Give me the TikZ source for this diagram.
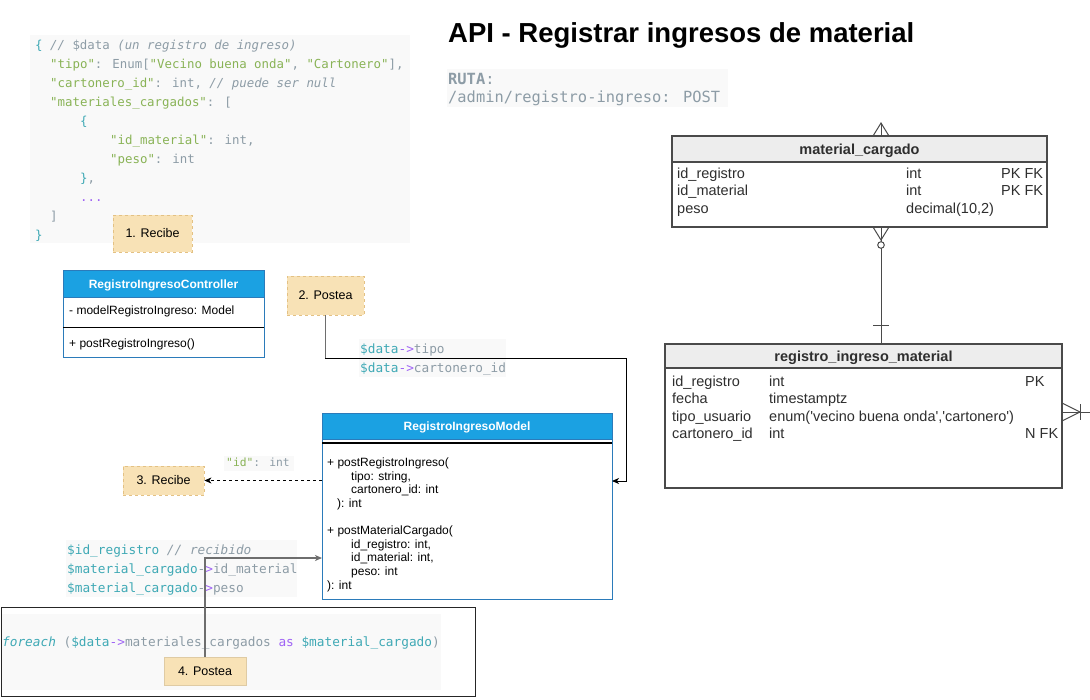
\documentclass[tikz,border=0pt]{standalone}
\usepackage{fontspec}
\setmainfont{Liberation Sans}
\newfontfamily\arialfnt{Liberation Sans}
\newfontfamily\codefnt{DejaVu Sans Mono}
\usetikzlibrary{arrows.meta}
\definecolor{cteal}{HTML}{3FA9B5}
\definecolor{cgreen}{HTML}{89B356}
\definecolor{cgray}{HTML}{8D9CA6}
\definecolor{cpurple}{HTML}{A064F5}
\definecolor{codebg}{HTML}{F9F9F9}
\definecolor{umlblue}{HTML}{1BA1E2}
\definecolor{umlline}{HTML}{2B7BBA}
\definecolor{stepfill}{HTML}{F8E2B6}
\definecolor{stepline}{HTML}{E3C184}
\definecolor{erheadfill}{HTML}{EDEDED}
\definecolor{erstroke}{HTML}{4A4A4A}
\definecolor{ertext}{HTML}{2E2E2E}
\definecolor{linkgray}{HTML}{6E6E6E}
\begin{document}
\begin{tikzpicture}[x=1pt,y=-1pt,
  codetxt/.style={anchor=base west,inner sep=0pt,text=cgray,font=\codefnt\fontsize{12.4}{15}\selectfont},
  codelbl/.style={anchor=base west,inner sep=0pt,text=cgray,font=\codefnt\fontsize{12.75}{15}\selectfont},
  codebgbox/.style={fill=codebg,draw=none},
  umltxt/.style={anchor=base west,inner sep=0pt,text=black,font=\arialfnt\fontsize{12}{14}\selectfont},
  umltitle/.style={anchor=base,inner sep=0pt,text=white,font=\arialfnt\bfseries\fontsize{12}{14}\selectfont},
  umlframe/.style={draw=umlline,line width=0.9pt,fill=white,inner sep=0pt},
  stepbox/.style={fill=stepfill,draw=stepline,line width=0.8pt,dash pattern=on 3pt off 3pt,inner sep=0pt,font=\arialfnt\fontsize{12.5}{14}\selectfont},
  ertxt/.style={anchor=base west,inner sep=0pt,text=ertext,font=\arialfnt\fontsize{14.5}{17}\selectfont},
  ertitle/.style={anchor=base,inner sep=0pt,text=ertext,font=\arialfnt\bfseries\fontsize{14.5}{17}\selectfont},
  erframe/.style={draw=erstroke,line width=1.1pt,inner sep=0pt},
  umlarrow/.style={-{Stealth[length=7pt,width=6pt,inset=2pt]}}
]
\useasboundingbox (0,0) rectangle (1090,699);
\fill[white] (0,0) rectangle (1090,699);

% ---------- backgrounds of code snippets ----------
\fill[codebgbox] (30,35) rectangle (410,243);
\fill[codebgbox] (359,339) rectangle (506,377);
\fill[codebgbox] (224,456) rectangle (294,471);
\fill[codebgbox] (66,540) rectangle (297,597);
\fill[codebgbox] (447,69) rectangle (728,107);
\fill[codebgbox] (1,614) rectangle (441,690);

% ---------- title and route ----------
\node[anchor=base west,inner sep=0pt,font=\arialfnt\bfseries\fontsize{27.5}{32}\selectfont] (title) at (448,42) {API - Registrar ingresos de material};
\node[anchor=base west,inner sep=0pt,text=cgray,font=\codefnt\fontsize{15.4}{18}\selectfont] (ruta1) at (448,84.5) {{\bfseries RUTA}:};
\node[anchor=base west,inner sep=0pt,text=cgray,font=\codefnt\fontsize{15.4}{18}\selectfont] (ruta2) at (448,102.5) {/admin/registro-ingreso: POST};

% ---------- JSON code ----------
\node[codetxt] (c1) at (35,49.5) {\textcolor{cteal}{\{} {\itshape //} \$data {\itshape (un registro de ingreso)}};
\node[codetxt] (c2) at (50,68.5) {\textcolor{cgreen}{"tipo"}: Enum[\textcolor{cgreen}{"Vecino buena onda"}, \textcolor{cgreen}{"Cartonero"}],};
\node[codetxt] (c3) at (50,87.5) {\textcolor{cgreen}{"cartonero\_id"}: int, {\itshape // puede ser null}};
\node[codetxt] (c4) at (50,106.5) {\textcolor{cgreen}{"materiales\_cargados"}: [};
\node[codetxt] (c5) at (80,125.5) {\textcolor{cteal}{\{}};
\node[codetxt] (c6) at (110,144.5) {\textcolor{cgreen}{"id\_material"}: int,};
\node[codetxt] (c7) at (110,163.5) {\textcolor{cgreen}{"peso"}: int};
\node[codetxt] (c8) at (80,182.5) {\textcolor{cteal}{\}},};
\node[codetxt] (c9) at (80,201.5) {\textcolor{cpurple}{...}};
\node[codetxt] (c10) at (50,220.5) {]};
\node[codetxt] (c11) at (35,239.5) {\textcolor{cteal}{\}}};

% ---------- labels ----------
\node[codelbl] (l1) at (360,353.5) {\textcolor{cteal}{\$data}\textcolor{cpurple}{->}tipo};
\node[codelbl] (l2) at (360,372.5) {\textcolor{cteal}{\$data}\textcolor{cpurple}{->}cartonero\_id};
\node[anchor=base west,inner sep=0pt,text=cgray,font=\codefnt\fontsize{11.3}{14}\selectfont] (lid) at (226,466.2) {\textcolor{cgreen}{"id"}: int};
\node[codelbl] (l3) at (67,554.5) {\textcolor{cteal}{\$id\_registro} {\itshape // recibido}};
\node[codelbl] (l4) at (67,573.5) {\textcolor{cteal}{\$material\_cargado}-\textcolor{cpurple}{>}id\_material};
\node[codelbl] (l5) at (67,592.5) {\textcolor{cteal}{\$material\_cargado}-\textcolor{cpurple}{>}peso};

% ---------- foreach frame ----------
\node[draw=black!85,line width=1.1pt,minimum width=474pt,minimum height=89pt,inner sep=0pt] (loop) at (238.5,652) {};
\node[codelbl] (lfor) at (2,646.5) {\textcolor{cteal}{\itshape foreach} (\textcolor{cteal}{\$data}\textcolor{cpurple}{->}materiales\_cargados \textcolor{cpurple}{as} \textcolor{cteal}{\$material\_cargado})};

% ---------- controller ----------
\node[umlframe,minimum width=201pt,minimum height=87pt] (ctrl) at (163.5,313.5) {};
\filldraw[fill=umlblue,draw=umlline,line width=0.9pt] (63,270) rectangle (264,297);
\node[umltitle] (ctrlt) at (163.5,288.5) {RegistroIngresoController};
\node[umltxt] (ctrla) at (69,314.3) {- modelRegistroIngreso: Model};
\draw[black,line width=1pt] (63,327) -- (264,327);
\node[umltxt] (ctrlm) at (69,347.3) {+ postRegistroIngreso()};

% ---------- model ----------
\node[umlframe,minimum width=290pt,minimum height=186pt] (model) at (467,506) {};
\filldraw[fill=umlblue,draw=umlline,line width=0.9pt] (322,413) rectangle (612,439);
\node[umltitle] (modelt) at (467,430.5) {RegistroIngresoModel};
\draw[black,line width=1.2pt] (322,443) -- (612,443);
\node[umltxt] (m1) at (327,466.2) {+ postRegistroIngreso(};
\node[umltxt] (m2) at (351,480) {tipo: string,};
\node[umltxt] (m3) at (351,493.8) {cartonero\_id: int};
\node[umltxt] (m4) at (337,507.6) {): int};
\node[umltxt] (m5) at (327,534.2) {+ postMaterialCargado(};
\node[umltxt] (m6) at (351,548) {id\_registro: int,};
\node[umltxt] (m7) at (351,561.8) {id\_material: int,};
\node[umltxt] (m8) at (351,575.6) {peso: int};
\node[umltxt] (m9) at (327,589.4) {): int};

% ---------- step boxes ----------
\node[stepbox,minimum width=79pt,minimum height=37pt] (s1) at (152.5,233.5) {1. Recibe};
\node[stepbox,minimum width=77pt,minimum height=39pt] (s2) at (325.5,295.5) {2. Postea};
\node[stepbox,minimum width=81pt,minimum height=29pt] (s3) at (163.5,480.5) {3. Recibe};
\node[fill=stepfill,draw=stepfill!90!black,line width=0.5pt,inner sep=0pt,minimum width=82pt,minimum height=28pt,font=\arialfnt\fontsize{12.5}{14}\selectfont] (s4) at (205,671) {4. Postea};

% ---------- connectors ----------
\coordinate (bend2) at (626,358);
\coordinate (modelE) at (612,481);
\coordinate (modelW) at (322,558);
\draw[black,line width=0.9pt,umlarrow] (s2.south) |- (bend2) |- (modelE);
\draw[linkgray,line width=1.6pt] (s2.south) -- (s2.south |- bend2);
\draw[black,line width=0.9pt,dash pattern=on 3pt off 3pt,umlarrow] (model.west |- s3) -- (s3.east);
\draw[linkgray,line width=1.6pt,umlarrow] (s4.north) |- (modelW);

% ---------- ER: material_cargado ----------
\fill[erheadfill] (672,136) rectangle (1047,162);
\node[erframe,minimum width=375pt,minimum height=91pt] (mc) at (859.5,181.5) {};
\draw[erstroke,line width=1.1pt] (672,162) -- (1047,162);
\node[ertitle] (mct) at (859.5,154) {material\_cargado};
\node[ertxt] (mc1) at (677,178) {id\_registro};
\node[ertxt] (mc2) at (677,195.5) {id\_material};
\node[ertxt] (mc3) at (677,213) {peso};
\node[ertxt] (mc4) at (906,178) {int};
\node[ertxt] (mc5) at (906,195.5) {int};
\node[ertxt] (mc6) at (906,213) {decimal(10,2)};
\node[ertxt] (mc7) at (1001,178) {PK FK};
\node[ertxt] (mc8) at (1001,195.5) {PK FK};

% ---------- ER: registro_ingreso_material ----------
\fill[erheadfill] (665,344) rectangle (1062,368);
\node[erframe,minimum width=397pt,minimum height=144pt] (rim) at (863.5,416) {};
\draw[erstroke,line width=1.1pt] (665,368) -- (1062,368);
\node[ertitle] (rimt) at (863.5,361) {registro\_ingreso\_material};
\node[ertxt] (r1) at (672,386) {id\_registro};
\node[ertxt] (r2) at (672,403.5) {fecha};
\node[ertxt] (r3) at (672,421) {tipo\_usuario};
\node[ertxt] (r4) at (672,438.5) {cartonero\_id};
\node[ertxt] (r5) at (769,386) {int};
\node[ertxt] (r6) at (769,403.5) {timestamptz};
\node[ertxt] (r7) at (769,421) {enum('vecino buena onda','cartonero')};
\node[ertxt] (r8) at (769,438.5) {int};
\node[ertxt] (r9) at (1025,386) {PK};
\node[ertxt] (r10) at (1025,438.5) {N FK};

% ---------- ER relationships ----------
\coordinate (relx) at (881,0);
\begin{scope}[erstroke,line width=1pt]
  % many (top of material_cargado)
  \draw (873,136) -- (881,123) -- (889,136);
  \draw (881,123) -- (mc.north -| relx);
  % zero-or-many to one
  \draw (873,227) -- (881,240) -- (889,227);
  \draw (mc.south -| relx) -- (rim.north -| relx);
  \filldraw[fill=white] (881,245) circle[radius=3.3];
  \draw (873,325) -- (889,325);
  % one-or-many on the right
  \draw (1062,403) -- (1080,412) -- (1062,421);
  \draw (rim.east |- 0,412) -- (1090,412);
  \draw (1080,404) -- (1080,420);
\end{scope}
\end{tikzpicture}
\end{document}
